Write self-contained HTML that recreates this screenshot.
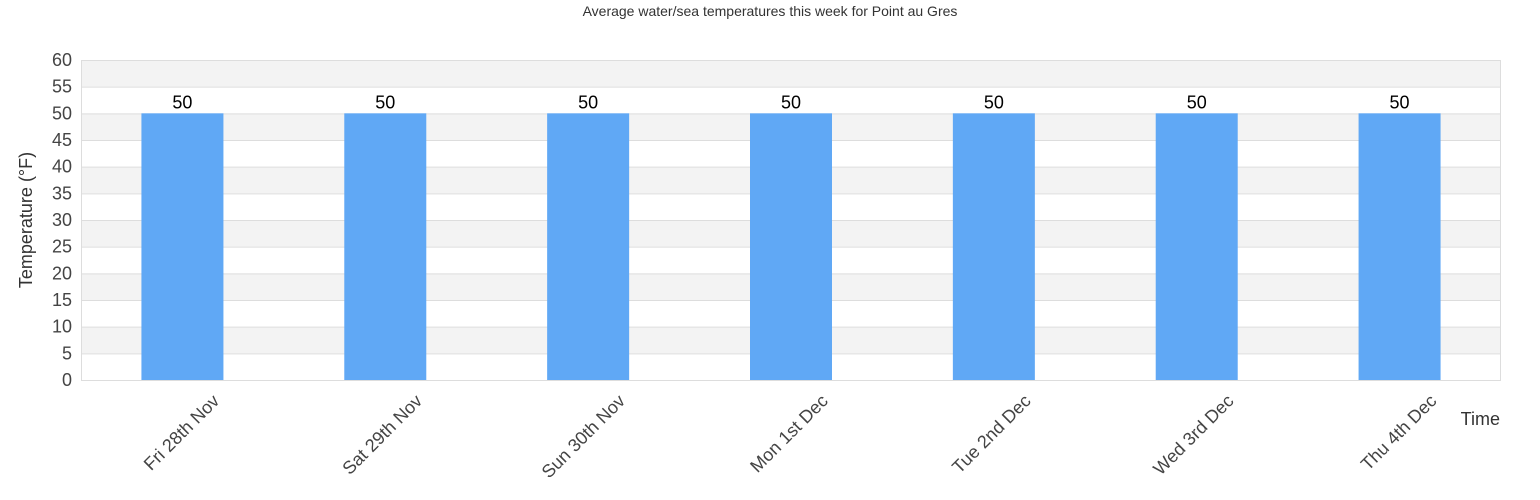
<!DOCTYPE html>
<html><head><meta charset="utf-8"><style>
body{margin:0;background:#fff;}
svg{display:block;font-family:"Liberation Sans",Arial,sans-serif;}
</style></head><body>
<svg width="1540" height="500">
<text x="770" y="16" text-anchor="middle" font-size="14" fill="#333">Average water/sea temperatures this week for Point au Gres</text>
<g id="bands"></g>
<g id="yticks"></g>
<g id="bars"></g>
<g id="xlabels"></g>
<text transform="translate(32,220) rotate(-90)" text-anchor="middle" font-size="18" fill="#333">Temperature (°F)</text>
<text x="1500" y="425" text-anchor="end" font-size="18" fill="#333">Time</text>
</svg>
<script>
const categories=["Fri 28th Nov","Sat 29th Nov","Sun 30th Nov","Mon 1st Dec","Tue 2nd Dec","Wed 3rd Dec","Thu 4th Dec"];
const values=[50,50,50,50,50,50,50];
const yTicks=[0,5,10,15,20,25,30,35,40,45,50,55,60];
const NS="http://www.w3.org/2000/svg";
const L=81,R=1501,T=60,B=380,yMax=60;
const y=v=>B-(v/yMax)*(B-T);
const bw=(R-L)/categories.length;
const x=i=>L+bw*(i+0.5);
function mk(t,a){const e=document.createElementNS(NS,t);for(const k in a)e.setAttribute(k,a[k]);return e;}
const bands=document.getElementById('bands');
for(let i=0;i<yTicks.length-1;i++){
  const r=mk('rect',{x:L,y:y(yTicks[i+1]),width:R-L,height:y(yTicks[i])-y(yTicks[i+1]),fill:(i%2===1)?'#f3f3f3':'#ffffff'});
  
  
  bands.appendChild(r);
}
const yt=document.getElementById('yticks');
yTicks.forEach(v=>{
  const ln=mk('line',{x1:L,x2:R,y1:y(v)+0.5,y2:y(v)+0.5,stroke:'#dddddd','stroke-width':1});
  
  
  yt.appendChild(ln);
  const t=mk('text',{x:72,y:y(v)+6,'text-anchor':'end','font-size':18,fill:'#444'});
  t.textContent=v;
  
  
  yt.appendChild(t);
});
const fr=mk('rect',{x:L+0.5,y:T+0.5,width:R-L-1,height:B-T,fill:'none',stroke:'#dddddd'});


yt.appendChild(fr);
const bars=document.getElementById('bars');
const xl=document.getElementById('xlabels');
categories.forEach((c,i)=>{
  const w=82;
  const b=mk('rect',{x:x(i)-w/2,y:y(values[i]),width:w,height:B-y(values[i]),fill:'#60a8f5'});
  
  
  bars.appendChild(b);
  const vl=mk('text',{x:x(i),y:y(values[i])-5,'text-anchor':'middle','font-size':18,fill:'#000'});
  vl.textContent=values[i];
  
  
  bars.appendChild(vl);
  const t=mk('text',{transform:`translate(${x(i)+38},${402}) rotate(-45)`,'text-anchor':'end','font-size':18,fill:'#444'});
  t.textContent=c;
  
  
  xl.appendChild(t);
});
</script>
</body></html>
